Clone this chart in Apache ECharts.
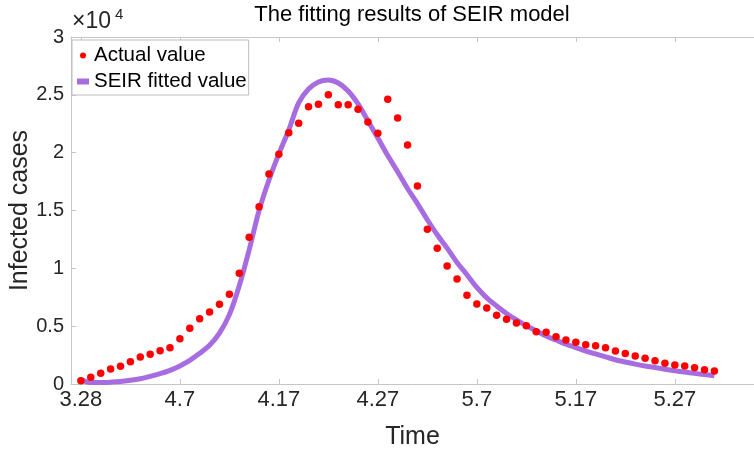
<!DOCTYPE html>
<html>
<head>
<meta charset="utf-8">
<script src="https://cdn.jsdelivr.net/npm/echarts@6/dist/echarts.min.js"></script>
<style>html,body{margin:0;padding:0;background:#fff}#c{width:754px;height:451px}</style>
</head>
<body>
<div id="c"></div>
<script>
// day offsets from 3.28
const days = [0,1,2,3,4,5,6,7,8,9,10,11,12,13,14,15,16,17,18,19,20,21,22,23,24,25,26,27,28,29,30,31,32,33,34,35,36,37,38,39,40,41,42,43,44,45,46,47,48,49,50,51,52,53,54,55,56,57,58,59,60,61,62,63,64];
const actualValues = [290,580,925,1300,1530,1930,2330,2570,2880,3140,3920,4810,5650,6225,6890,7760,9570,12680,15330,18160,19860,21730,22540,23980,24180,25010,24150,24150,23750,22650,21680,24610,23000,20660,17120,13380,11730,10200,9080,7670,6920,6570,5940,5590,5270,5040,4520,4470,4090,3800,3600,3400,3310,3140,2850,2640,2430,2220,2000,1790,1640,1560,1410,1240,1120];
const fittedValues = [350,120,130,160,210,320,460,660,890,1180,1560,2040,2650,3350,4400,6000,8500,11600,15000,17640,19890,21960,24300,25500,26110,26280,26020,25330,24210,22740,21270,19750,18350,16900,15600,14200,12900,11750,10500,9450,8350,7450,6750,6100,5550,5050,4600,4150,3800,3450,3150,2850,2600,2350,2100,1900,1720,1560,1420,1280,1150,1030,920,820,720];
const tickDays = [0,10,20,30,40,50,60];
const tickLabels = ['3.28','4.7','4.17','4.27','5.7','5.17','5.27'];

const FONT = '"Liberation Sans", Arial, sans-serif';
const AXIS_COLOR = '#c6c6c6';
const TEXT_COLOR = '#262626';

const chart = echarts.init(document.getElementById('c'), null, {renderer: 'canvas'});
const actual = days.map((d, i) => [d, actualValues[i]]);
const fitted = days.map((d, i) => [d, fittedValues[i]]);
const labelMap = {};
tickDays.forEach((d, i) => labelMap[d] = tickLabels[i]);

chart.setOption({
  animation: false,
  backgroundColor: '#fff',
  title: {
    text: 'The fitting results of SEIR model',
    left: 412, textAlign: 'center', top: 0, padding: [4, 0, 0, 0],
    textStyle: {fontFamily: FONT, fontSize: 22, fontWeight: 'normal', color: '#000'}
  },
  graphic: [
    {type: 'text', left: 72, top: 10, style: {text: '×10', fontFamily: FONT, fontSize: 23, fill: TEXT_COLOR}},
    {type: 'text', left: 115, top: 7, style: {text: '4', fontFamily: FONT, fontSize: 15, fill: TEXT_COLOR}}
  ],
  legend: {
    orient: 'vertical', left: 72, top: 40,
    backgroundColor: '#fff', borderColor: '#bdbdbd', borderWidth: 1,
    padding: [5, 2, 3, 5], itemGap: 5, itemTextGap: 2,
    itemWidth: 12, itemHeight: 6,
    textStyle: {fontFamily: FONT, fontSize: 20.5, color: '#000'},
    data: [
      {name: 'Actual value', icon: 'circle'},
      {name: 'SEIR fitted value', icon: 'rect'}
    ]
  },
  grid: {left: 71, right: 0, top: 37, bottom: 67, containLabel: false, outerBoundsMode: 'none'},
  xAxis: [{
    type: 'value', min: -1, max: 68,
    name: 'Time', nameLocation: 'middle', nameGap: 41, nameMoveOverlap: false,
    nameTextStyle: {fontFamily: FONT, fontSize: 25, color: TEXT_COLOR},
    axisLine: {show: true, onZero: false, lineStyle: {color: AXIS_COLOR, width: 1}},
    axisTick: {show: true, inside: true, length: 5, customValues: tickDays, lineStyle: {color: AXIS_COLOR}},
    axisLabel: {customValues: tickDays, formatter: v => labelMap[v] || '', fontFamily: FONT, fontSize: 22, color: TEXT_COLOR, margin: 5},
    splitLine: {show: false}
  }, {
    type: 'value', min: -1, max: 68, position: 'top',
    axisLine: {show: true, onZero: false, lineStyle: {color: AXIS_COLOR, width: 1}},
    axisTick: {show: true, inside: true, length: 5, customValues: tickDays, lineStyle: {color: AXIS_COLOR}},
    axisLabel: {show: false},
    splitLine: {show: false}
  }],
  yAxis: {
    type: 'value', min: 0, max: 30000, interval: 5000,
    name: 'Infected cases', nameLocation: 'middle', nameGap: 38, nameMoveOverlap: false,
    nameTextStyle: {fontFamily: FONT, fontSize: 25, color: TEXT_COLOR},
    axisLine: {show: true, onZero: false, lineStyle: {color: AXIS_COLOR, width: 1}},
    axisTick: {show: true, inside: true, length: 5, lineStyle: {color: AXIS_COLOR}},
    axisLabel: {formatter: v => String(v / 10000), fontFamily: FONT, fontSize: 20, color: TEXT_COLOR, margin: 7},
    splitLine: {show: false}
  },
  series: [
    {
      name: 'Actual value', type: 'scatter', data: actual,
      symbol: 'circle', symbolSize: 7.5,
      itemStyle: {color: '#ff0000', opacity: 1}, z: 3
    },
    {
      name: 'SEIR fitted value', type: 'line', data: fitted,
      showSymbol: false, symbol: 'none', smooth: 0.3,
      lineStyle: {color: '#a66ce0', width: 5},
      itemStyle: {color: '#a66ce0'}, z: 2
    }
  ]
});
</script>
</body>
</html>
